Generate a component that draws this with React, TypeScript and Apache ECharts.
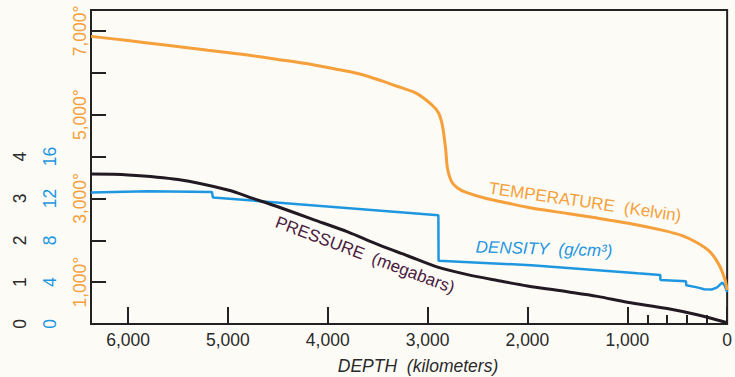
import React, { useEffect, useRef } from "react";
import * as echarts from "echarts";

// ---- Data ----
const depthTickValues = [0, 1000, 2000, 3000, 4000, 5000, 6000];
const depthMinorTickValues = [200, 400, 600, 800];
const tempTickValues = [1000, 2000, 3000, 4000, 5000, 6000, 7000];

// Temperature (Kelvin) vs depth (km)
const tempDepth = [6371, 6000, 5650, 5200, 4820, 4500, 4160, 3900, 3660, 3450, 3320, 3120, 2960, 2890, 2850, 2820, 2800, 2760, 2700, 2620, 2430, 2200, 1960, 1600, 1300, 950, 630, 450, 300, 170, 80, 20, 0];
const tempK = [6870, 6770, 6670, 6540, 6430, 6320, 6200, 6080, 5960, 5800, 5690, 5520, 5240, 5040, 4720, 4200, 3700, 3400, 3250, 3150, 3010, 2890, 2770, 2640, 2530, 2390, 2230, 2110, 1940, 1720, 1410, 1050, 810];

// Density (g/cm3) vs depth (km)
const densDepth = [6371, 5800, 5160, 5150, 2892, 2890, 1960, 897, 670, 668, 412, 410, 300, 230, 150, 100, 50, 25, 0];
const densVal = [12.57, 12.68, 12.62, 12.09, 10.4, 6.05, 5.62, 4.85, 4.69, 4.2, 4.08, 3.7, 3.5, 3.32, 3.3, 3.5, 3.95, 3.7, 3.05];

// Pressure (megabars) vs depth (km)
const presDepth = [6371, 6000, 5500, 5000, 4750, 4500, 4150, 3800, 3500, 3200, 2900, 2600, 2300, 2000, 1600, 1300, 1000, 600, 300, 0];
const presVal = [3.58, 3.56, 3.45, 3.2, 3.0, 2.8, 2.5, 2.2, 1.9, 1.63, 1.36, 1.18, 1.04, 0.91, 0.77, 0.66, 0.52, 0.37, 0.22, 0.03];

const ORANGE = "#F5A03A";
const BLUE = "#1F97E0";
const DARK = "#221A22";
const FONT = '"Liberation Sans", Arial, Helvetica, sans-serif';

const zip = (xs: number[], ys: number[]) => xs.map((x, i) => [x, ys[i]]);

export default function App() {
  const ref = useRef<HTMLDivElement>(null);

  useEffect(() => {
    if (!ref.current) return;
    const chart = echarts.init(ref.current, undefined, { renderer: "svg" });

    const labelBase = { fontFamily: FONT, fontSize: 17.5 };

    chart.setOption({
      animation: false,
      backgroundColor: "#FCFBF6",
      grid: {
        left: 91,
        right: 5,
        top: 10,
        bottom: 53,
        show: true,
        borderColor: "#222",
        borderWidth: 2,
        backgroundColor: "transparent",
      },
      xAxis: [
        {
          type: "value",
          min: 0,
          max: 6371,
          inverse: true,
          position: "bottom",
          splitLine: { show: false },
          axisLine: { show: true, onZero: false, lineStyle: { color: "#222", width: 2 } },
          axisTick: {
            show: true,
            inside: true,
            length: 17,
            lineStyle: { color: "#222", width: 2 },
            customValues: depthTickValues,
          },
          axisLabel: {
            ...labelBase,
            color: "#2a2a2a",
            margin: 7,
            customValues: depthTickValues,
            formatter: (v: number) => v.toLocaleString("en-US"),
          },
        },
        {
          type: "value",
          min: 0,
          max: 6371,
          inverse: true,
          position: "bottom",
          splitLine: { show: false },
          axisLine: { show: false, onZero: false },
          axisLabel: { show: false },
          axisTick: {
            show: true,
            inside: true,
            length: 9,
            lineStyle: { color: "#222", width: 2 },
            customValues: depthMinorTickValues,
          },
        },
      ],
      yAxis: [
        {
          type: "value",
          min: 0,
          max: 7500,
          interval: 1000,
          position: "left",
          splitLine: { show: false },
          axisLine: { show: true, onZero: false, lineStyle: { color: "#222", width: 2 } },
          axisTick: {
            show: true,
            inside: true,
            length: 15,
            lineStyle: { color: "#222", width: 2 },
            customValues: tempTickValues,
          },
          axisLabel: {
            ...labelBase,
            color: ORANGE,
            rotate: 90,
            margin: 2,
            formatter: (v: number) =>
              v % 2000 === 1000 && v <= 7000 ? v.toLocaleString("en-US") + "°" : "",
          },
        },
        {
          type: "value",
          min: 0,
          max: 30,
          interval: 4,
          position: "left",
          offset: 30,
          splitLine: { show: false },
          axisLine: { show: false, onZero: false },
          axisTick: { show: false },
          axisLabel: {
            ...labelBase,
            color: BLUE,
            rotate: 90,
            margin: 2,
            formatter: (v: number) => (v <= 16 ? String(v) : ""),
          },
        },
        {
          type: "value",
          min: 0,
          max: 7.5,
          interval: 1,
          position: "left",
          offset: 60,
          splitLine: { show: false },
          axisLine: { show: false, onZero: false },
          axisTick: { show: false },
          axisLabel: {
            ...labelBase,
            color: "#2a2a2a",
            rotate: 90,
            margin: 2,
            formatter: (v: number) => (v <= 4 ? String(v) : ""),
          },
        },
      ],
      series: [
        {
          name: "Density",
          type: "line",
          xAxisIndex: 0,
          yAxisIndex: 1,
          data: zip(densDepth, densVal),
          showSymbol: false,
          symbol: "none",
          lineStyle: { color: BLUE, width: 2.5 },
          z: 2,
        },
        {
          name: "Temperature",
          type: "line",
          xAxisIndex: 0,
          yAxisIndex: 0,
          data: zip(tempDepth, tempK),
          showSymbol: false,
          symbol: "none",
          smooth: 0.25,
          lineStyle: { color: ORANGE, width: 3 },
          z: 3,
        },
        {
          name: "Pressure",
          type: "line",
          xAxisIndex: 0,
          yAxisIndex: 2,
          data: zip(presDepth, presVal),
          showSymbol: false,
          symbol: "none",
          smooth: 0.3,
          lineStyle: { color: DARK, width: 3 },
          z: 4,
        },
      ],
      graphic: [
        {
          type: "text",
          x: 585,
          y: 202,
          rotation: -0.145,
          z: 10,
          style: {
            text: "TEMPERATURE  (Kelvin)",
            fill: ORANGE,
            fontFamily: FONT,
            fontSize: 17,
            textAlign: "center",
            textVerticalAlign: "middle",
            align: "center",
            verticalAlign: "middle",
          },
        },
        {
          type: "text",
          x: 544,
          y: 249,
          rotation: -0.03,
          z: 10,
          style: {
            text: "DENSITY  (g/cm³)",
            fill: BLUE,
            fontFamily: FONT,
            fontStyle: "italic",
            fontSize: 17,
            textAlign: "center",
            textVerticalAlign: "middle",
            align: "center",
            verticalAlign: "middle",
          },
        },
        {
          type: "text",
          x: 365,
          y: 255,
          rotation: -0.36,
          z: 10,
          style: {
            text: "PRESSURE  (megabars)",
            fill: "#4A2040",
            fontFamily: FONT,
            fontSize: 17,
            textAlign: "center",
            textVerticalAlign: "middle",
            align: "center",
            verticalAlign: "middle",
          },
        },
        {
          type: "text",
          x: 418,
          y: 366,
          z: 10,
          style: {
            text: "DEPTH  (kilometers)",
            fill: "#2a2a2a",
            fontFamily: FONT,
            fontStyle: "italic",
            fontSize: 17.5,
            textAlign: "center",
            textVerticalAlign: "middle",
            align: "center",
            verticalAlign: "middle",
          },
        },
      ],
    });

    return () => chart.dispose();
  }, []);

  return (
    <div
      ref={ref}
      style={{ position: "absolute", left: 0, top: 0, width: 735, height: 377 }}
    />
  );
}
